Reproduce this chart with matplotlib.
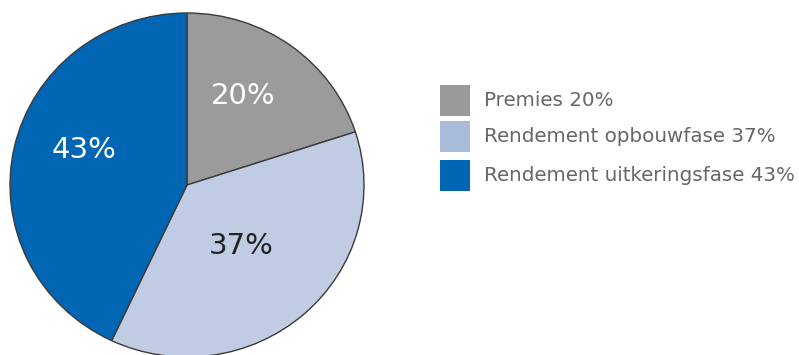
import matplotlib
matplotlib.use("Agg")
import matplotlib.pyplot as plt
from matplotlib.patches import Rectangle
import numpy as np

labels = ["Premies", "Rendement opbouwfase", "Rendement uitkeringsfase"]
values = [20, 37, 43]
colors = ["#9b9b9b", "#bfcce3", "#0066b3"]
legend_colors = ["#9a9a9a", "#a9bdda", "#0066b3"]
label_colors = ["white", "#222222", "white"]

W, H = 799, 355
fig = plt.figure(figsize=(W / 100, H / 100), dpi=100)

cx, cy, rx, ry = 187, 185, 177, 172
ax = fig.add_axes([(cx - rx) / W, (H - cy - ry) / H, 2 * rx / W, 2 * ry / H])
wedges, texts = ax.pie(values, colors=colors, startangle=90, counterclock=False,
                       radius=1.0,
                       wedgeprops=dict(edgecolor="#3a3a3a", linewidth=1.0))
ax.set_xlim(-1, 1)
ax.set_ylim(-1, 1)
ax.set_aspect("auto")
ax.axis("off")
for w in wedges:
    w.set_clip_on(False)

fracs = np.array(values) / sum(values)
start = 90.0
label_r = [0.606, 0.47, 0.616]
label_dang = [4.5, -0.7, -6.6]
for i, (v, f) in enumerate(zip(values, fracs)):
    mid = start - f * 360 / 2 + label_dang[i]
    start -= f * 360
    rr = label_r[i]
    x = rr * np.cos(np.radians(mid))
    y = rr * np.sin(np.radians(mid))
    ax.text(x, y, f"{v}%", ha="center", va="center", fontsize=21,
            color=label_colors[i], family="DejaVu Sans")

lax = fig.add_axes([0, 0, 1, 1])
lax.set_xlim(0, W)
lax.set_ylim(H, 0)
lax.axis("off")
box_top = [85, 121, 160]
for i, (lab, v) in enumerate(zip(labels, values)):
    lax.add_patch(Rectangle((440, box_top[i]), 30, 31, facecolor=legend_colors[i],
                            edgecolor="none"))
    lax.text(484, box_top[i] + 15.5, f"{lab} {v}%", ha="left", va="center",
             fontsize=14.3, color="#666666", family="DejaVu Sans")

fig.savefig("out.png", dpi=100)
